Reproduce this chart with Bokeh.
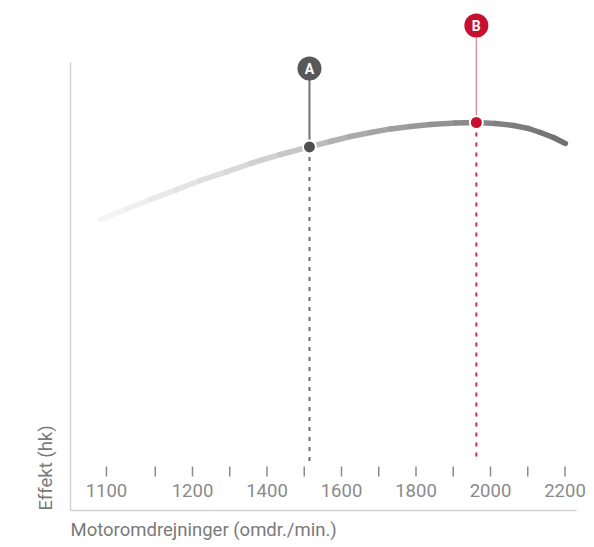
import numpy as np
from bokeh.plotting import figure
from bokeh.models import Range1d, LinearAxis, FixedTicker, Title
from bokeh.core.properties import value
from bokeh.embed import file_html
from bokeh.resources import INLINE

# ---------------- data ----------------
rpm = [953, 1020, 1087, 1154, 1221, 1289, 1356, 1436, 1514, 1570, 1624, 1678,
       1732, 1785, 1839, 1906, 1962, 2013, 2062, 2102, 2134, 2169, 2201]
power = [72.75, 75.25, 77.75, 80.1, 82.5, 84.6, 86.75, 89.0, 90.9, 92.25, 93.5, 94.5,
         95.4, 96.0, 96.5, 96.9, 97.0, 96.75, 96.25, 95.5, 94.5, 93.25, 91.75]

tick_rpm = [969, 1100, 1200, 1300, 1400, 1500, 1600, 1700, 1800, 1900, 2000, 2100, 2200]
tick_text = ["1100", "", "1200", "", "1400", "", "1600", "", "1800", "", "2000", "", "2200"]

marker_labels = ["A", "B"]
marker_rpm = [1514, 1962]
marker_power = [90.9, 97.0]

x_title = "Motoromdrejninger (omdr./min.)"
y_title = "Effekt (hk)"

# ---------------- style / layout ----------------
FONT = "Roboto"
badge_y = [110.5, 121.25]
dash_bottom = 12.25
tick_y0, tick_y1 = 8.5, 11.0
label_y = 5.0
axis_top = 112

p = figure(width=594, height=547, output_backend="svg", toolbar_location=None,
           x_range=Range1d(872.5, 2279.2), y_range=Range1d(0, 125),
           x_axis_location=None, y_axis_location=None,
           min_border_left=70, min_border_top=10, min_border_right=0, min_border_bottom=37)
p.outline_line_color = None
for g in p.grid:
    g.visible = False

def bare_axis(bounds):
    return LinearAxis(ticker=FixedTicker(ticks=[]), bounds=bounds,
                      axis_line_color="#d2d2d2", axis_line_width=1.5,
                      major_tick_line_color=None, minor_tick_line_color=None,
                      major_label_text_font_size="0px")

p.add_layout(bare_axis((0, axis_top)), "left")
p.add_layout(bare_axis((872.5, 2232)), "below")

p.add_layout(Title(text=x_title, align="left", text_font=FONT, text_font_size="18.5px",
                   text_font_style="normal", text_color="#7a7a7a", standoff=12), "below")
p.add_layout(Title(text=y_title, align="left", text_font=FONT, text_font_size="18.5px",
                   text_font_style="normal", text_color="#7a7a7a", standoff=28), "left")

# tick marks and labels
p.segment(x0=tick_rpm, y0=[tick_y0] * len(tick_rpm), x1=tick_rpm, y1=[tick_y1] * len(tick_rpm),
          line_color="#8c8c8c", line_width=1.5)
p.text(x=tick_rpm, y=[label_y] * len(tick_rpm), text=tick_text, text_align="center",
       text_baseline="middle", text_font=value(FONT), text_font_size="18.5px",
       text_color="#8a8a8a")

# curve with gradient
stops_f = [0.0, 0.3, 0.45, 0.5, 0.75, 1.0]
stops_c = [(247, 247, 247), (216, 216, 216), (194, 194, 194), (178, 178, 178),
           (144, 144, 144), (112, 112, 112)]
r = np.array(rpm, dtype=float)
mids = (r[:-1] + r[1:]) / 2
frac = (mids - r[0]) / (r[-1] - r[0])
cols = []
for f in frac:
    c = [int(round(np.interp(f, stops_f, [s[k] for s in stops_c]))) for k in range(3)]
    cols.append("#%02x%02x%02x" % tuple(c))
xs = [[rpm[i], rpm[i + 1]] for i in range(len(rpm) - 1)]
ys = [[power[i], power[i + 1]] for i in range(len(power) - 1)]
p.multi_line(xs=xs, ys=ys, line_color=cols, line_width=5.5, line_cap="round")

# dashed drop lines
p.segment(x0=marker_rpm, y0=marker_power, x1=marker_rpm, y1=[dash_bottom] * 2,
          line_color=["#6e6e6e", "#d42a48"], line_width=2, line_dash="4 6")
# stems
p.segment(x0=marker_rpm, y0=marker_power, x1=marker_rpm, y1=badge_y,
          line_color=["#747474", "#e38998"], line_width=[2, 1.3])
# points
p.scatter(x=marker_rpm, y=marker_power, size=13, fill_color=["#4f4f51", "#c8102e"],
          line_color="white", line_width=2)
# badges
p.scatter(x=marker_rpm, y=badge_y, size=24, fill_color=["#58585a", "#c8102e"], line_color=None)
p.text(x=marker_rpm, y=badge_y, text=marker_labels, text_align="center",
       text_baseline="middle", text_font=value("Roboto"), text_font_style="bold",
       text_font_size="14px", text_color="white")

open("out.html", "w").write(file_html(p, INLINE))
